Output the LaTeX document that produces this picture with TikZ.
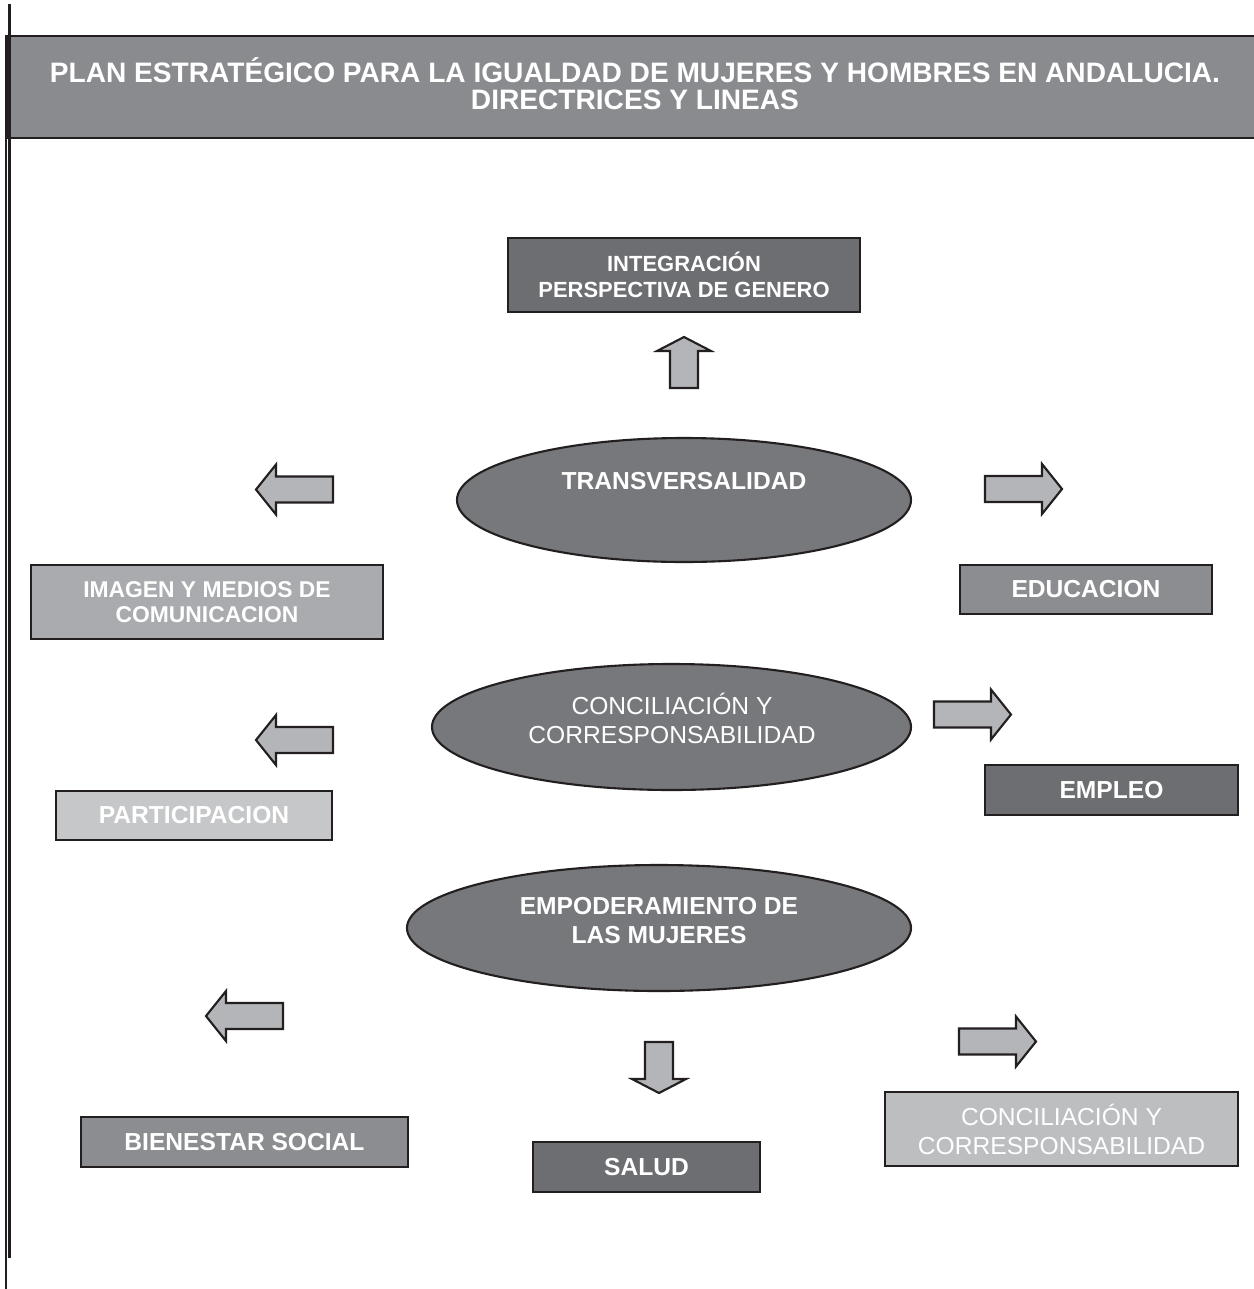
\documentclass[tikz,border=0pt]{standalone}
\usepackage{fontspec}
\setmainfont{Liberation Sans}
\usetikzlibrary{shapes.geometric}
\definecolor{bordc}{HTML}{231F20}
\definecolor{hdrc}{HTML}{8A8B8E}
\definecolor{darkc}{HTML}{6D6E71}
\definecolor{ellc}{HTML}{77787B}
\definecolor{midc}{HTML}{8C8D90}
\definecolor{lightc}{HTML}{A9ABAE}
\definecolor{palec}{HTML}{C6C7C9}
\definecolor{concc}{HTML}{BCBEC0}
\definecolor{arrc}{HTML}{B3B5B8}
\newcommand\pxl{0.02cm}
\tikzset{
  box/.style={draw=bordc, line width=1.2pt, rectangle, inner sep=0pt, text=white, align=center,
    font=\bfseries\fontsize{14}{16.5}\selectfont},
  oval/.style={draw=bordc, line width=1.2pt, ellipse, inner sep=0pt, fill=ellc},
  ovaltext/.style={text=white, align=center, inner sep=0pt, font=\bfseries\fontsize{14}{16.5}\selectfont},
  arrowshape/.style={draw=bordc, line width=1.2pt, fill=arrc, line join=miter},
  pics/harrow/.style={code={\draw[arrowshape] (0,0) -- (20,-25) -- (20,-13) -- (77,-13) -- (77,13) -- (20,13) -- (20,25) -- cycle;}},
  pics/varrow/.style={code={\draw[arrowshape] (0,0) -- (-27,14) -- (-14,14) -- (-14,51) -- (14,51) -- (14,14) -- (27,14) -- cycle;}},
}
\begin{document}
\begin{tikzpicture}[x=0.02cm, y=-0.02cm]
\useasboundingbox[fill=white] (0,0) rectangle (1254,1289);

% header
\node[draw=bordc, line width=1.4pt, fill=hdrc, rectangle, inner sep=0pt,
  minimum width=1260*\pxl, minimum height=102*\pxl, anchor=north west] (header) at (6,35) {};
\node[text=white, align=center, inner sep=0pt, font=\bfseries\fontsize{16}{15.5}\selectfont] (title) at (635,84)
  {PLAN ESTRATÉGICO PARA LA IGUALDAD DE MUJERES Y HOMBRES EN ANDALUCIA.\\DIRECTRICES Y LINEAS};

% left margin lines
\draw[bordc, line width=1.6pt] (9.5,4) -- (9.5,1258);
\draw[bordc, line width=1.1pt] (6,35) -- (6,1289);

% boxes
\node[box, fill=darkc, minimum width=352*\pxl, minimum height=74*\pxl,
  font=\bfseries\fontsize{12.5}{14.8}\selectfont] (integ) at (684,275) {INTEGRACIÓN\\PERSPECTIVA DE GENERO};
\node[box, fill=lightc, minimum width=352*\pxl, minimum height=74*\pxl,
  font=\bfseries\fontsize{13}{14.5}\selectfont] (imagen) at (207,602) {IMAGEN Y MEDIOS DE\\COMUNICACION};
\node[box, fill=midc, minimum width=252*\pxl, minimum height=49*\pxl] (educ) at (1086,589.5) {EDUCACION};
\node[box, fill=darkc, minimum width=253*\pxl, minimum height=50*\pxl] (empleo) at (1111.5,790) {EMPLEO};
\node[box, fill=palec, minimum width=276*\pxl, minimum height=49*\pxl] (partic) at (194,815.5) {PARTICIPACION};
\node[box, fill=midc, minimum width=327*\pxl, minimum height=50*\pxl] (bienestar) at (244.5,1142) {BIENESTAR SOCIAL};
\node[box, fill=darkc, minimum width=227*\pxl, minimum height=50*\pxl] (salud) at (646.5,1167) {SALUD};
\node[box, fill=concc, minimum width=353*\pxl, minimum height=74*\pxl,
  font=\fontsize{14}{16.5}\selectfont] (concbox) at (1061.5,1129) {CONCILIACIÓN Y\\CORRESPONSABILIDAD};

% ellipses
\node[oval, minimum width=454*\pxl, minimum height=124*\pxl] (transv) at (684,500) {};
\node[ovaltext] (transvtext) at (684,481) {TRANSVERSALIDAD};
\node[oval, minimum width=479*\pxl, minimum height=126*\pxl] (concil) at (671.5,727) {};
\node[ovaltext, font=\fontsize{14}{16.5}\selectfont] (conciltext) at (672,718) {CONCILIACIÓN Y\\CORRESPONSABILIDAD};
\node[oval, minimum width=504*\pxl, minimum height=126*\pxl] (empod) at (659,928) {};
\node[ovaltext] (empodtext) at (659,921) {EMPODERAMIENTO DE\\LAS MUJERES};

% block arrows
\pic at (684,337) {varrow};
\pic at (256,489.5) {harrow};
\pic[xscale=-1] at (1062,489) {harrow};
\pic[xscale=-1] at (1011,714.5) {harrow};
\pic at (256,740) {harrow};
\pic at (206,1016) {harrow};
\pic[yscale=-1] at (659,1093) {varrow};
\pic[xscale=-1] at (1036,1041.5) {harrow};
\end{tikzpicture}
\end{document}
